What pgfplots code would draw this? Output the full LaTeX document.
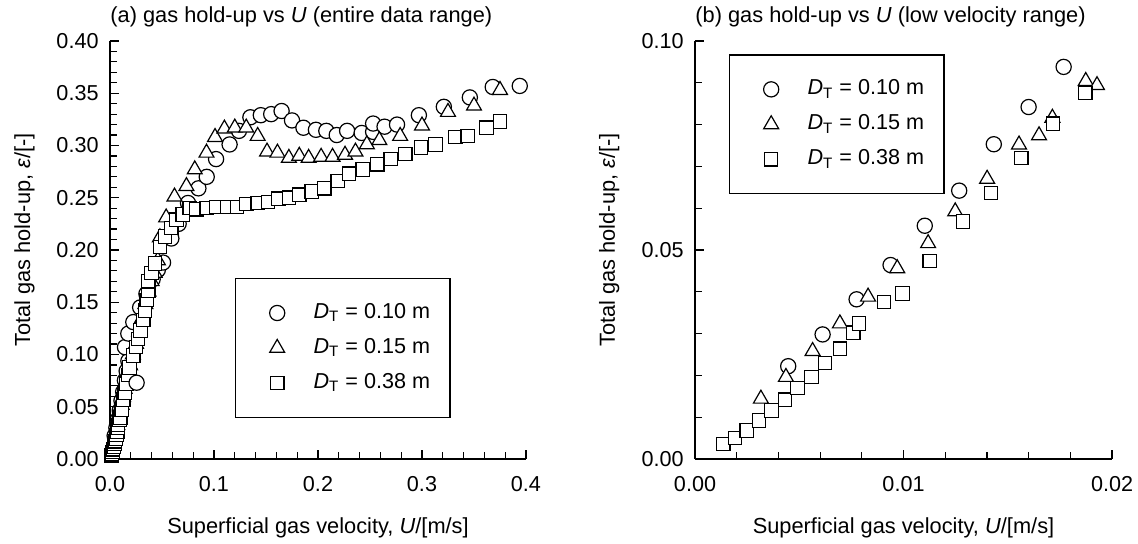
\documentclass[border=0pt]{standalone}
\usepackage{pgfplots}
\pgfplotsset{compat=1.18}
\usepackage{pgfplotstable}
\usepackage{fontspec}
\setmainfont{Liberation Sans}
\newcommand{\fs}{\fontsize{10.8}{13}\selectfont}
\newcommand{\fl}{\fontsize{10.9}{13}\selectfont}

% low velocity data (shown in both panels)
\pgfplotstableread{
u e
0.00447 0.0222
0.00612 0.0298
0.00775 0.0382
0.00938 0.0464
0.01102 0.0558
0.01267 0.0642
0.01433 0.0753
0.0160 0.0842
0.01768 0.0938
}\lowA
\pgfplotstableread{
u e
0.00316 0.0144
0.00436 0.0196
0.00564 0.0258
0.00695 0.0324
0.0083 0.0388
0.0097 0.0456
0.01118 0.0516
0.01248 0.0592
0.01401 0.0670
0.01554 0.0752
0.0165 0.0774
0.01714 0.0816
0.01874 0.0904
0.01928 0.0894
}\lowB
\pgfplotstableread{
u e
0.00136 0.0036
0.00192 0.0050
0.00248 0.0068
0.00307 0.0092
0.00367 0.0116
0.00431 0.0142
0.00492 0.0170
0.00559 0.0196
0.00623 0.0230
0.00695 0.0264
0.00759 0.0302
0.00786 0.0324
0.00906 0.0376
0.00995 0.0396
0.01126 0.0474
0.01286 0.0568
0.01419 0.0636
0.01565 0.0720
0.01717 0.0802
0.01872 0.0876
}\lowC
% higher velocity data (panel a only)
\pgfplotstableread{
u e
0.0144 0.107
0.0176 0.120
0.0224 0.131
0.0256 0.073
0.029 0.145
0.035 0.158
0.041 0.172
0.046 0.181
0.051 0.188
0.059 0.211
0.066 0.225
0.075 0.245
0.085 0.259
0.093 0.270
0.102 0.287
0.115 0.301
0.124 0.314
0.135 0.327
0.145 0.329
0.155 0.330
0.165 0.333
0.175 0.324
0.186 0.317
0.198 0.315
0.208 0.314
0.218 0.310
0.228 0.314
0.242 0.312
0.253 0.313
0.253 0.321
0.264 0.318
0.276 0.320
0.297 0.329
0.321 0.337
0.346 0.346
0.368 0.356
0.394 0.357
}\highA
\pgfplotstableread{
u e
0.022 0.100
0.025 0.110
0.028 0.122
0.031 0.135
0.034 0.148
0.037 0.160
0.040 0.170
0.043 0.178
0.046 0.190
0.048 0.212
0.054 0.231
0.062 0.251
0.0735 0.261
0.0815 0.277
0.0928 0.293
0.101 0.308
0.110 0.316
0.120 0.317
0.131 0.317
0.142 0.309
0.151 0.294
0.161 0.293
0.172 0.288
0.182 0.290
0.191 0.288
0.203 0.289
0.214 0.289
0.226 0.291
0.236 0.294
0.247 0.301
0.259 0.305
0.279 0.309
0.300 0.319
0.325 0.332
0.350 0.338
0.375 0.353
}\highB
\pgfplotstableread{
u e
0.0224 0.099
0.025 0.107
0.027 0.115
0.0294 0.123
0.032 0.133
0.0336 0.142
0.0352 0.152
0.0368 0.161
0.0368 0.170
0.040 0.178
0.0432 0.187
0.048 0.203
0.053 0.213
0.059 0.221
0.064 0.229
0.070 0.234
0.0767 0.240
0.083 0.239
0.093 0.240
0.102 0.241
0.113 0.241
0.122 0.241
0.131 0.244
0.142 0.245
0.152 0.246
0.162 0.249
0.172 0.250
0.182 0.253
0.194 0.256
0.206 0.259
0.219 0.266
0.230 0.273
0.243 0.277
0.257 0.282
0.270 0.287
0.284 0.292
0.299 0.298
0.313 0.301
0.332 0.308
0.344 0.309
0.362 0.317
0.375 0.323
}\highC

\pgfplotsset{
  myaxis/.style={
    scale only axis,
    axis x line=bottom, axis y line=left,
    axis line style={-, line width=0.6pt},
    tick align=inside,
    major tick length=4.5pt, minor tick length=3.5pt,
    every tick/.style={black, line width=0.6pt},
    tick label style={font=\fs},
    /pgf/number format/assume math mode=true,
    every axis title shift=0pt,
    title style={at={(axis description cs:0,1)}, anchor=base west, inner sep=0pt, yshift=9pt},
    xlabel style={at={(axis description cs:0.5,0)}, anchor=base, inner sep=0pt, yshift=-37.5pt},
    ylabel style={at={(axis description cs:-0.1923,0.524)}, anchor=base, inner sep=0pt},
    xticklabel style={yshift=-5.4pt},
    yticklabel style={xshift=-2.2pt},
    clip=false,
    legend style={draw=black, line width=0.6pt, font=\fs, anchor=north west,
      inner xsep=10pt, inner ysep=12.2pt, row sep=7.5pt,
      nodes={inner sep=0pt, text height=7.7pt, text depth=2.3pt}},
    legend cell align=left,
  },
  mk/.style={only marks, mark options={draw=black, fill=white, line width=0.6pt},
    legend image code/.code={
      \path[draw=none, fill=none] (0pt,0pt) -- (29pt,0pt);
      \draw[##1] plot coordinates {(10.8pt,0pt)};}},
  sA/.style={mk, mark=*, mark size=3.8pt},
  sB/.style={mk, mark=triangle*, mark size=4.3pt},
  sC/.style={mk, mark=square*, mark size=3.35pt},
}

\begin{document}
\begin{tikzpicture}
\useasboundingbox (0,0) rectangle (569pt,272pt);
\begin{axis}[myaxis,
  at={(55pt,42.5pt)}, anchor=south west,
  width=208pt, height=209pt,
  xmin=0, xmax=0.4, ymin=0, ymax=0.4,
  xtick={0,0.1,0.2,0.3,0.4}, minor x tick num=4,
  ytick={0,0.05,0.1,0.15,0.2,0.25,0.3,0.35,0.4}, minor y tick num=4,
  xticklabel style={/pgf/number format/.cd, fixed, fixed zerofill, precision=1},
  yticklabel style={/pgf/number format/.cd, fixed, fixed zerofill, precision=2},
  title={\fl (a) gas hold-up vs \textit{U} (entire data range)},
  xlabel={\fl Superficial gas velocity, \textit{U}/[m/s]},
  ylabel={\fl Total gas hold-up, \textit{ε}/[-]},
  legend style={at={(0.3005,0.433)}},
]
\addplot[sA, forget plot] table[x=u,y=e] {\lowA};
\addplot[sB, forget plot] table[x=u,y=e] {\lowB};
\addplot[sC, forget plot] table[x=u,y=e] {\lowC};
\addplot[sA] table[x=u,y=e] {\highA};
\addlegendentry{\textit{D}\textsubscript{T} = 0.10 m}
\addplot[sB] table[x=u,y=e] {\highB};
\addlegendentry{\textit{D}\textsubscript{T} = 0.15 m}
\addplot[sC] table[x=u,y=e] {\highC};
\addlegendentry{\textit{D}\textsubscript{T} = 0.38 m}
\end{axis}

\begin{axis}[myaxis,
  at={(347.5pt,42.5pt)}, anchor=south west,
  width=208.5pt, height=209pt,
  xmin=0, xmax=0.02, ymin=0, ymax=0.1,
  xtick={0,0.01,0.02}, minor x tick num=4,
  ytick={0,0.05,0.1}, minor y tick num=4,
  scaled x ticks=false, scaled y ticks=false,
  xticklabel style={/pgf/number format/.cd, fixed, fixed zerofill, precision=2},
  yticklabel style={/pgf/number format/.cd, fixed, fixed zerofill, precision=2},
  title={\fl (b) gas hold-up vs \textit{U} (low velocity range)},
  xlabel={\fl Superficial gas velocity, \textit{U}/[m/s]},
  ylabel={\fl Total gas hold-up, \textit{ε}/[-]},
  legend style={at={(0.0815,0.968)}},
]
\addplot[sA] table[x=u,y=e] {\lowA};
\addlegendentry{\textit{D}\textsubscript{T} = 0.10 m}
\addplot[sB] table[x=u,y=e] {\lowB};
\addlegendentry{\textit{D}\textsubscript{T} = 0.15 m}
\addplot[sC] table[x=u,y=e] {\lowC};
\addlegendentry{\textit{D}\textsubscript{T} = 0.38 m}
\end{axis}
\end{tikzpicture}
\end{document}
